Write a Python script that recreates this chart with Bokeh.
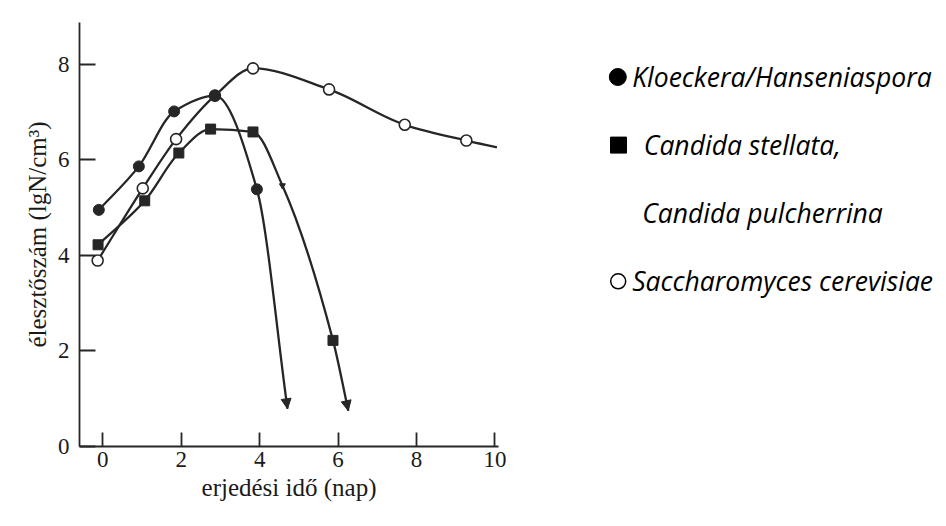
import numpy as np
from bokeh.plotting import figure
from bokeh.models import Range1d, FixedTicker, ColumnDataSource, Arrow, NormalHead
from bokeh.layouts import row
from bokeh.embed import file_html
from bokeh.resources import INLINE
from bokeh.core.properties import value

# ---------------- data ----------------
kloeckera_x = [-0.10, 0.92, 1.82, 2.86, 3.93]
kloeckera_y = [4.95, 5.86, 7.01, 7.34, 5.38]
kloeckera_tip_x = [4.71]
kloeckera_tip_y = [0.79]

candida_x = [-0.12, 1.07, 1.94, 2.75, 3.83, 5.87]
candida_y = [4.22, 5.14, 6.14, 6.64, 6.58, 2.22]
candida_mark_x = [4.58]
candida_mark_y = [5.46]
candida_tip_x = [6.26]
candida_tip_y = [0.75]

sacch_x = [-0.13, 1.02, 1.87, 2.86, 3.83, 5.77, 7.70, 9.27]
sacch_y = [3.89, 5.40, 6.43, 7.34, 7.91, 7.47, 6.73, 6.40]
sacch_end_x = [10.05]
sacch_end_y = [6.26]

x_ticks = [0, 2, 4, 6, 8, 10]
y_ticks = [0, 2, 4, 6, 8]

legend_labels = ["Kloeckera/Hanseniaspora", "Candida stellata,",
                 "Candida pulcherrina", "Saccharomyces cerevisiae"]
legend_markers = ["circle", "square", None, "circle_open"]

INK = "#262626"

# layout (pixels)
FRAME_L, FRAME_T, FRAME_W, FRAME_H = 79, 22, 419, 424
MAIN_W = 508
TOTAL_H = 510
LEG_W = 946 - MAIN_W


def pchip_bezier_source(xs, ys):
    """Shape-preserving cubic (Fritsch-Carlson) drawn as Bezier segments."""
    x = np.asarray(xs, float)
    y = np.asarray(ys, float)
    h = np.diff(x)
    d = np.diff(y) / h
    n = len(x)
    m = np.zeros(n)
    m[0], m[-1] = d[0], d[-1]
    for k in range(1, n - 1):
        if d[k - 1] * d[k] <= 0:
            m[k] = 0.0
        else:
            w1 = 2 * h[k] + h[k - 1]
            w2 = h[k] + 2 * h[k - 1]
            m[k] = (w1 + w2) / (w1 / d[k - 1] + w2 / d[k])
    return ColumnDataSource(dict(
        x0=x[:-1], y0=y[:-1], x1=x[1:], y1=y[1:],
        cx0=x[:-1] + h / 3, cy0=y[:-1] + m[:-1] * h / 3,
        cx1=x[1:] - h / 3, cy1=y[1:] - m[1:] * h / 3))


p = figure(frame_width=FRAME_W, frame_height=FRAME_H,
           min_border_left=FRAME_L, min_border_right=MAIN_W - FRAME_L - FRAME_W,
           min_border_top=FRAME_T, min_border_bottom=TOTAL_H - FRAME_T - FRAME_H,
           x_range=Range1d(-0.593, 10.09), y_range=Range1d(0, 8.87),
           toolbar_location=None, output_backend="svg")
p.outline_line_color = None
p.grid.visible = False
p.background_fill_color = "white"

for ax in (p.xaxis[0], p.yaxis[0]):
    ax.axis_line_color = INK
    ax.axis_line_width = 1.8
    ax.major_tick_line_color = INK
    ax.major_tick_line_width = 1.8
    ax.major_tick_out = 0
    ax.minor_tick_line_color = None
    ax.major_label_text_font = "Liberation Serif"
    ax.major_label_text_font_size = "23px"
    ax.major_label_text_color = "#1a1a1a"
    ax.axis_label_text_font = "Liberation Serif"
    ax.axis_label_text_font_size = "25px"
    ax.axis_label_text_font_style = "normal"
    ax.axis_label_text_color = "#1a1a1a"

p.xaxis.ticker = FixedTicker(ticks=x_ticks)
p.yaxis.ticker = FixedTicker(ticks=y_ticks)
p.xaxis.major_tick_in = 14
p.yaxis.major_tick_in = 16
p.xaxis.major_label_standoff = 5
p.yaxis.major_label_standoff = 10
p.xaxis.axis_label = "erjedési idő (nap)"
p.yaxis.axis_label = "élesztőszám (lgN/cm³)"
p.xaxis.axis_label_standoff = 4
p.yaxis.axis_label_standoff = 4

# curves
k_path_x = kloeckera_x + kloeckera_tip_x
k_path_y = kloeckera_y + kloeckera_tip_y
c_path_x = candida_x[:5] + candida_mark_x + candida_x[5:] + candida_tip_x
c_path_y = candida_y[:5] + candida_mark_y + candida_y[5:] + candida_tip_y
s_path_x = sacch_x + sacch_end_x
s_path_y = sacch_y + sacch_end_y

for px, py in ((s_path_x, s_path_y), (c_path_x, c_path_y), (k_path_x, k_path_y)):
    src = pchip_bezier_source(px, py)
    p.bezier(x0="x0", y0="y0", x1="x1", y1="y1", cx0="cx0", cy0="cy0", cx1="cx1", cy1="cy1",
             source=src, line_color=INK, line_width=2.3)

# arrow heads at the falling ends
for px, py in ((k_path_x, k_path_y), (c_path_x, c_path_y)):
    p.add_layout(Arrow(end=NormalHead(size=10, fill_color=INK, line_color=INK, line_width=1),
                       x_start=px[-2], y_start=py[-2], x_end=px[-1], y_end=py[-1],
                       line_alpha=0))

# markers
p.scatter(sacch_x, sacch_y, marker="circle", size=11, fill_color="white",
          line_color=INK, line_width=1.6)
p.scatter(candida_x, candida_y, marker="square", size=10, fill_color=INK,
          line_color=INK, line_width=1)
p.scatter(candida_mark_x, candida_mark_y, marker="inverted_triangle", size=6,
          fill_color=INK, line_color=INK)
p.scatter(kloeckera_x, kloeckera_y, marker="circle", size=11, fill_color=INK,
          line_color=INK, line_width=1)

# ---------------- legend panel (coordinates = page pixels) ----------------
leg = figure(frame_width=LEG_W, frame_height=FRAME_H,
             min_border_left=0, min_border_right=0,
             min_border_top=FRAME_T, min_border_bottom=TOTAL_H - FRAME_T - FRAME_H,
             x_range=Range1d(MAIN_W, MAIN_W + LEG_W),
             y_range=Range1d(FRAME_T + FRAME_H, FRAME_T),
             toolbar_location=None, output_backend="svg",
             x_axis_type=None, y_axis_type=None)
leg.outline_line_color = None

row_base, row_step = 76.5, 68.1
text_x = [631.7, 643.3, 641.7, 631.7]
row_y = [row_base + row_step * i for i in range(len(legend_labels))]
leg.text(x=text_x, y=row_y, text=legend_labels, text_font=value("Open Sans"),
         text_font_style="italic", text_font_size="26.5px", text_baseline="alphabetic",
         text_color="black")

for i, m in enumerate(legend_markers):
    if m is None:
        continue
    yy = row_y[i]
    if m == "circle":
        leg.scatter([617.3], [yy], marker="circle", size=17, fill_color="black", line_color="black")
    elif m == "square":
        leg.scatter([618.0], [yy], marker="square", size=16, fill_color="black", line_color="black")
    else:
        leg.scatter([617.7], [yy], marker="circle", size=15, fill_color="white",
                    line_color="black", line_width=1.5)

layout = row(p, leg)
open("out.html", "w").write(file_html(layout, INLINE))
